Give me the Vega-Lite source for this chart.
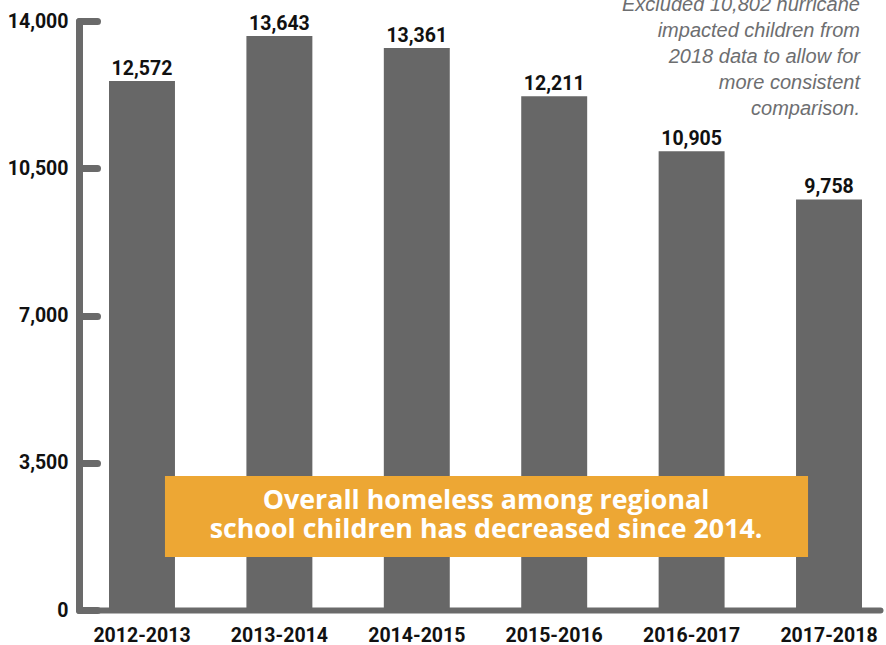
{
  "$schema": "https://vega.github.io/schema/vega-lite/v6.json",
  "width": 801,
  "height": 589,
  "autosize": {"type": "none"},
  "padding": {"left": 79, "top": 21, "right": 6, "bottom": 35},
  "background": "white",
  "config": {"view": {"stroke": null}, "font": "Roboto"},
  "resolve": {"scale": {"x": "independent", "y": "independent"}},
  "layer": [
    {
      "data": {"values": [
        {"year": "2012-2013", "count": 12572},
        {"year": "2013-2014", "count": 13643},
        {"year": "2014-2015", "count": 13361},
        {"year": "2015-2016", "count": 12211},
        {"year": "2016-2017", "count": 10905},
        {"year": "2017-2018", "count": 9758}
      ]},
      "encoding": {
        "x": {"field": "year", "type": "nominal", "sort": null,
          "scale": {"paddingInner": 0.52, "paddingOuter": 0.1747, "align": 0.625},
          "axis": {"title": null, "labelAngle": 0, "ticks": false, "domainColor": "#6a6a6a", "domainWidth": 6, "domainCap": "round",
            "labelFont": "Roboto", "labelFontWeight": "bold", "labelFontSize": 19.5, "labelColor": "#111111", "labelPadding": 16, "grid": false}},
        "y": {"field": "count", "type": "quantitative",
          "scale": {"domain": [0, 14000], "nice": false, "zero": true},
          "axis": {"title": null, "values": [0, 3500, 7000, 10500, 14000], "format": ",d", "grid": false,
            "domainColor": "#6a6a6a", "domainWidth": 7, "domainCap": "round",
            "tickColor": "#6a6a6a", "tickWidth": 7, "tickSize": -18, "tickCap": "round",
            "labelFont": "Roboto", "labelFontWeight": "bold", "labelFontSize": 19.5, "labelColor": "#111111", "labelPadding": 29}}
      },
      "layer": [
        {"mark": {"type": "bar", "color": "#676767"}},
        {"mark": {"type": "text", "baseline": "alphabetic", "dy": -6, "fontSize": 19.5, "fontWeight": "bold", "color": "#111111", "font": "Roboto"},
         "encoding": {"text": {"field": "count", "type": "quantitative", "format": ",d"}}}
      ]
    },
    {
      "data": {"values": [
        {"left": 0.644, "right": 5.461, "top": 3185, "bottom": 1260, "mid": 3.049, "center": 2591,
         "msg": ["Overall homeless among regional", "school children has decreased since 2014."]}
      ]},
      "encoding": {
        "y": {"field": "top", "type": "quantitative", "scale": {"domain": [0, 14000], "nice": false}, "axis": null}
      },
      "layer": [
        {"mark": {"type": "rect", "color": "#EDA734"},
         "encoding": {
           "x": {"field": "left", "type": "quantitative", "scale": {"domain": [0, 6], "nice": false, "zero": false}, "axis": null},
           "x2": {"field": "right"},
           "y2": {"field": "bottom"}
         }},
        {"mark": {"type": "text", "align": "center", "baseline": "middle", "lineHeight": 29.5, "fontSize": 26.8, "fontWeight": "bold", "font": "Open Sans", "color": "white"},
         "encoding": {
           "x": {"field": "mid", "type": "quantitative", "scale": {"domain": [0, 6], "nice": false, "zero": false}, "axis": null},
           "y": {"field": "center", "type": "quantitative", "scale": {"domain": [0, 14000], "nice": false}, "axis": null},
           "text": {"field": "msg"}
         }}
      ]
    },
    {
      "data": {"values": [
        {"pos": 5.85, "level": 14229,
         "note": ["Excluded 10,802 hurricane", "impacted children from", "2018 data to allow for", "more consistent", "comparison."]}
      ]},
      "mark": {"type": "text", "align": "right", "baseline": "alphabetic", "lineHeight": 25.8, "fontSize": 20, "fontStyle": "italic", "font": "Liberation Sans", "color": "#6d6e70"},
      "encoding": {
        "x": {"field": "pos", "type": "quantitative", "scale": {"domain": [0, 6], "nice": false, "zero": false}, "axis": null},
        "y": {"field": "level", "type": "quantitative", "scale": {"domain": [0, 14000], "nice": false}, "axis": null},
        "text": {"field": "note"}
      }
    }
  ]
}
